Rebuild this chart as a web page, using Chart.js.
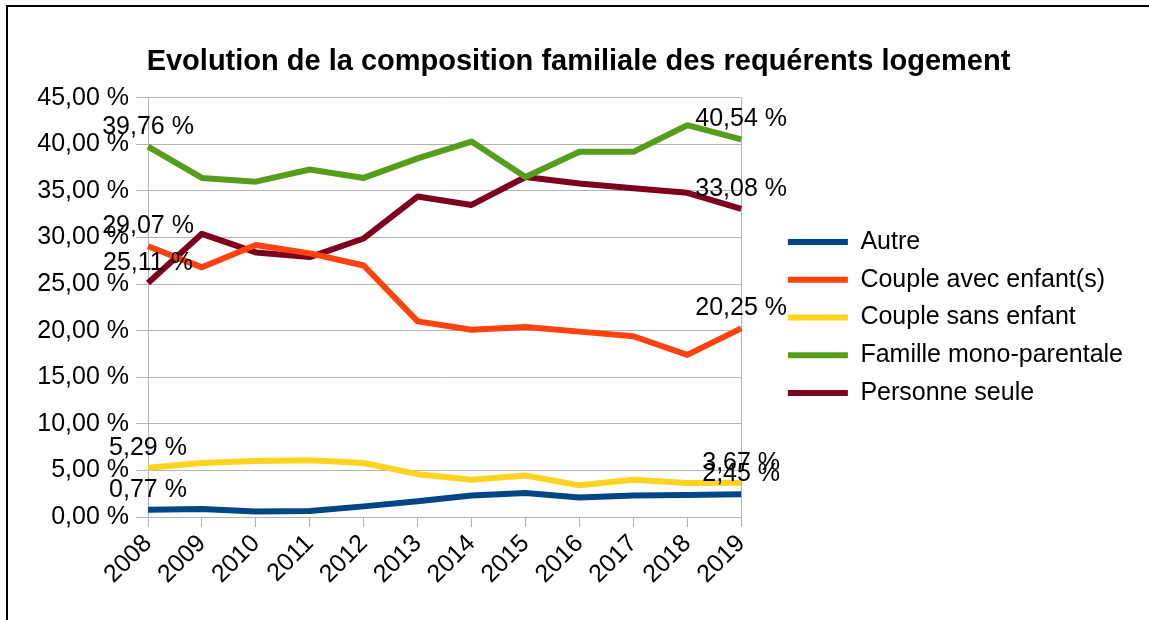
<!DOCTYPE html>
<html>
<head>
<meta charset="utf-8">
<script src="https://cdn.jsdelivr.net/npm/chart.js@4"></script>
<style>
  body { margin: 0; background: #fff; }
  #frame {
    position: absolute; left: 6px; top: 5px;
    width: 1143px; height: 615px;
    border-left: 2px solid #000; border-top: 2px solid #000;
  }
</style>
</head>
<body>
<div id="frame"><canvas id="chart" width="1141" height="613"></canvas></div>
<script>
const years = ["2008", "2009", "2010", "2011", "2012", "2013", "2014", "2015", "2016", "2017", "2018", "2019"];

const autre = [0.77, 0.85, 0.6, 0.64, 1.14, 1.7, 2.3, 2.58, 2.1, 2.3, 2.36, 2.45];
const coupleAvecEnfant = [29.07, 26.8, 29.2, 28.3, 27.0, 21.0, 20.1, 20.4, 19.9, 19.4, 17.4, 20.25];
const coupleSansEnfant = [5.29, 5.8, 6.0, 6.1, 5.8, 4.6, 4.0, 4.45, 3.4, 4.0, 3.65, 3.67];
const familleMono = [39.76, 36.4, 36.0, 37.3, 36.4, 38.5, 40.3, 36.5, 39.2, 39.2, 42.06, 40.54];
const personneSeule = [25.11, 30.4, 28.4, 27.9, 29.9, 34.4, 33.5, 36.5, 35.8, 35.3, 34.8, 33.08];

const yTicks = [0, 5, 10, 15, 20, 25, 30, 35, 40, 45];

const FONT = "'Liberation Sans', Arial, sans-serif";

function pct(v) {
  return v.toFixed(2).replace(".", ",") + " %";
}

function makeSet(label, data, color) {
  return {
    label: label,
    data: data,
    borderColor: color,
    backgroundColor: color,
    borderWidth: 6,
    pointRadius: 0,
    tension: 0,
    borderJoinStyle: "round",
    fill: false
  };
}

// labels on the first and last point of each line
const endLabels = {
  id: "endLabels",
  afterDatasetsDraw(chart) {
    const ctx = chart.ctx;
    ctx.save();
    ctx.font = "25px " + FONT;
    ctx.fillStyle = "#000";
    ctx.textAlign = "center";
    ctx.textBaseline = "alphabetic";
    chart.data.datasets.forEach((ds, i) => {
      const meta = chart.getDatasetMeta(i);
      [0, ds.data.length - 1].forEach(idx => {
        const pt = meta.data[idx];
        ctx.fillText(pct(ds.data[idx]), pt.x, pt.y - 13);
      });
    });
    ctx.restore();
  }
};

// the legend sits a bit away from the plot, title stays centred on the frame
const nudge = {
  id: "nudge",
  afterLayout(chart) {
    const lg = chart.legend;
    lg.left += 34; lg.right += 34;
    lg.top += 4; lg.bottom += 4;
    const tb = chart.titleBlock;
    tb.left += 25; tb.right += 25;
  }
};

new Chart("chart", {
  type: "line",
  data: {
    labels: years,
    datasets: [
      makeSet("Autre", autre, "#004586"),
      makeSet("Couple avec enfant(s)", coupleAvecEnfant, "#ff420e"),
      makeSet("Couple sans enfant", coupleSansEnfant, "#ffd320"),
      makeSet("Famille mono-parentale", familleMono, "#579d1c"),
      makeSet("Personne seule", personneSeule, "#7e0021")
    ]
  },
  options: {
    responsive: false,
    animation: false,
    layout: { padding: { left: 0, right: 50, top: 0, bottom: 0 } },
    scales: {
      x: {
        offset: false,
        grid: {
          color: c => (c.index === 0 || c.index === years.length - 1) ? "#b3b3b3" : "rgba(0,0,0,0)",
          tickColor: "#b3b3b3",
          tickLength: 10,
          lineWidth: 1
        },
        border: { color: "#b3b3b3" },
        ticks: {
          color: "#000",
          font: { family: FONT, size: 25 },
          maxRotation: 45,
          minRotation: 45,
          padding: 2
        },
        afterFit(scale) { scale.height = 103; }
      },
      y: {
        min: 0,
        max: 45,
        afterBuildTicks(scale) { scale.ticks = yTicks.map(v => ({ value: v })); },
        grid: { color: "#b3b3b3", tickColor: "#b3b3b3", tickLength: 12 },
        border: { color: "#b3b3b3" },
        ticks: {
          color: "#000",
          font: { family: FONT, size: 25 },
          padding: 7,
          callback: v => pct(v)
        },
        afterFit(scale) { scale.width = 140; }
      }
    },
    plugins: {
      title: {
        display: true,
        text: "Evolution de la composition familiale des requérents logement",
        color: "#000",
        font: { family: FONT, size: 29, weight: "bold" },
        padding: { top: 38, bottom: 18 }
      },
      legend: {
        position: "right",
        maxWidth: 420,
        labels: {
          color: "#000",
          font: { family: FONT, size: 25 },
          boxWidth: 60,
          boxHeight: 6,
          padding: 12.7,
          generateLabels(chart) {
            const items = Chart.defaults.plugins.legend.labels.generateLabels(chart);
            items.forEach(it => { it.lineWidth = 0; });
            return items;
          }
        }
      },
      tooltip: { enabled: false }
    }
  },
  plugins: [endLabels, nudge]
});
</script>
</body>
</html>
